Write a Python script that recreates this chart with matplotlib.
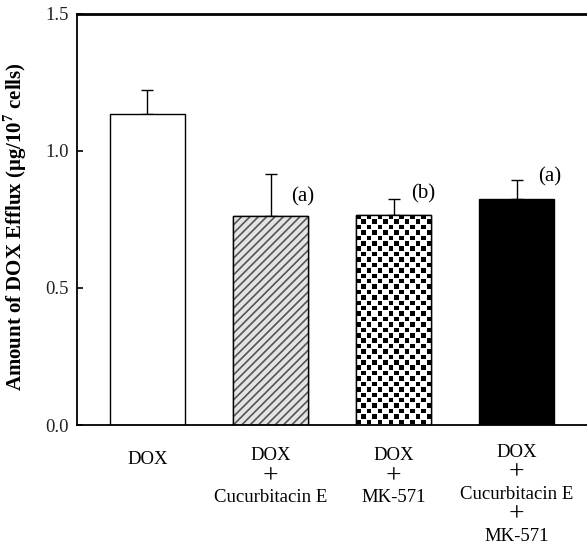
import numpy as np
import matplotlib
matplotlib.use('Agg')
import matplotlib.pyplot as plt

plt.rcParams['font.family'] = ['Liberation Serif', 'DejaVu Serif']
plt.rcParams['mathtext.fontset'] = 'custom'
plt.rcParams['mathtext.rm'] = 'Liberation Serif'
plt.rcParams['mathtext.bf'] = 'Liberation Serif:bold'
plt.rcParams['hatch.linewidth'] = 1.2

groups = ['DOX', 'DOX\n+\nCucurbitacin E', 'DOX\n+\nMK-571',
          'DOX\n+\nCucurbitacin E\n+\nMK-571']
efflux = [1.135, 0.762, 0.768, 0.825]
err = [0.088, 0.155, 0.056, 0.068]
sig = ['', '(a)', '(b)', '(a)']

fig = plt.figure(figsize=(5.87, 5.46), dpi=100)
ax = fig.add_axes([0.1312, 0.2216, 0.8688, 0.7528])

x = np.arange(len(groups))
w = 0.61

# white bar, hatched bar, checker bar, black bar
bars = ax.bar(x, efflux, width=w, color=['white', 'white', 'white', 'black'],
              edgecolor='black', linewidth=1, zorder=2)
ax.bar(x[1], efflux[1], width=w, color='#e4e4e4', edgecolor='#555555',
       hatch='////', linewidth=0, zorder=2.1)
ax.bar(x[1], efflux[1], width=w, color='none', edgecolor='black',
       linewidth=1, zorder=2.5)
ax.errorbar(x, efflux, yerr=[np.zeros(len(err)), err], fmt='none',
            ecolor='black', elinewidth=1, capsize=4.5, capthick=1, zorder=1)

ax.set_xlim(-0.573, 3.573)
ax.set_ylim(0, 1.5)

# checkerboard fill for the MK-571 bar
b = bars[2]
fig.canvas.draw()
bb = b.get_window_extent()
cell = 5.4
nx = int(round(bb.width / cell))
ny = int(round(bb.height / cell))
sub = 6
img = np.ones((ny * sub, nx * sub))
for i in range(ny):
    for j in range(nx):
        if (i + j) % 2 == 0:
            img[i * sub:i * sub + 5, j * sub:j * sub + 5] = 0
x0 = b.get_x()
im = ax.imshow(img, extent=[x0, x0 + b.get_width(), 0, b.get_height()],
               cmap='gray', vmin=0, vmax=1, aspect='auto',
               interpolation='nearest', zorder=2.1)
im.set_clip_path(b)
ax.bar(x[2], efflux[2], width=w, color='none', edgecolor='black',
       linewidth=1, zorder=2.5)
ax.set_xlim(-0.573, 3.573)
ax.set_ylim(0, 1.5)

ax.text(1.265, 0.834, sig[1], fontsize=15, ha='center', va='center')
ax.text(2.24, 0.842, sig[2], fontsize=15, ha='center', va='center')
ax.text(3.27, 0.904, sig[3], fontsize=15, ha='center', va='center')

ax.set_yticks([0, 0.5, 1.0, 1.5])
ax.set_yticklabels(['0.0', '0.5', '1.0', '1.5'], fontsize=13.5, color='#222222')
ax.tick_params(axis='y', direction='in', length=4, width=1.2, pad=6)
ax.set_xticks(x)
ax.set_xticklabels([''] * len(groups))
ax.tick_params(axis='x', length=0)

# group labels, line by line (the "+" signs are set larger)
for i, lab in enumerate(groups):
    lines = lab.split('\n')
    first = 34 - 1.75 * (len(lines) - 1)
    for k, line in enumerate(lines):
        off = (first + 21 * k) * 0.72
        ax.annotate(line, xy=(x[i], 0), xycoords=('data', 'axes fraction'),
                    xytext=(0, -off), textcoords='offset points',
                    ha='center', va='center',
                    fontsize=20 if line == '+' else 13.5)

ax.spines['right'].set_visible(False)
ax.spines['top'].set_linewidth(2)
ax.spines['left'].set_linewidth(1.3)
ax.spines['bottom'].set_linewidth(1.3)

ax.set_ylabel(r'Amount of DOX Efflux ($\mathbf{\mu}$g/10$^{\mathbf{7}}$ cells)',
              fontsize=15, fontweight='bold')
ax.yaxis.set_label_coords(-0.094, 0.483)

fig.savefig('out.png', dpi=100)
